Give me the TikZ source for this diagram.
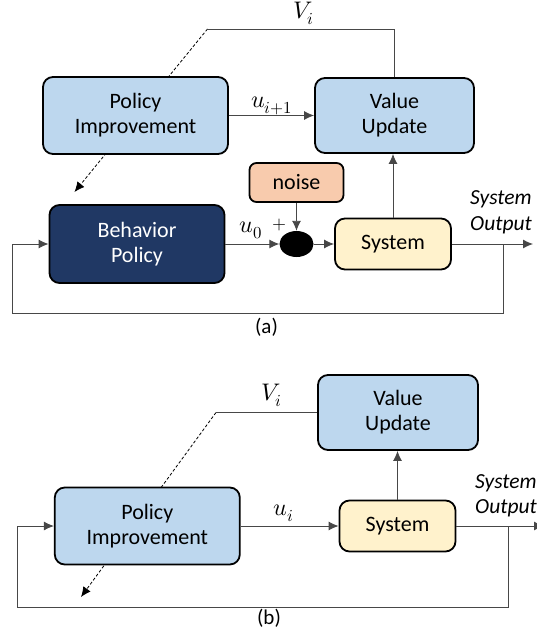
\documentclass[tikz,border=0pt]{standalone}
\usepackage{fontspec}
\usepackage{unicode-math}
\setmainfont{Carlito}
\setmathfont{Latin Modern Math}
\usetikzlibrary{arrows.meta,shapes.geometric}
\definecolor{lightblk}{HTML}{BDD7EE}
\definecolor{navyblk}{HTML}{203864}
\definecolor{noiseblk}{HTML}{F8CBAD}
\definecolor{sysblk}{HTML}{FFF2CC}

\begin{document}
\begin{tikzpicture}[x=1pt,y=-1pt,
    blk/.style={draw=black,line width=1.8pt,rounded corners=10pt,align=center,inner sep=0pt,font=\fontsize{22}{25}\selectfont},
    wire/.style={draw=black!72,line width=0.9pt},
    tip/.style={-{Latex[length=10pt,width=9pt]}},
    guess/.style={black,line width=0.8pt,dash pattern=on 3pt off 2pt,-{Latex[length=10pt,width=9pt]}},
    lbl/.style={font=\fontsize{24}{28}\selectfont,inner sep=0pt},
    outlbl/.style={font=\fontsize{21.5}{25.5}\selectfont\itshape,align=left,anchor=west,inner sep=0pt},
    subcap/.style={font=\fontsize{21}{24}\selectfont,inner sep=0pt}]
\useasboundingbox (0,0) rectangle (536,636);

% (a)
\coordinate (bendA) at (207.5,29);
\coordinate (tipA) at (74.5,192);
\draw[guess] (bendA) -- (tipA);

\node[blk,fill=lightblk,minimum width=185pt,minimum height=77pt] (piA) at (135.5,115.5) {Policy\\Improvement};
\node[blk,fill=lightblk,minimum width=159pt,minimum height=75pt] (vuA) at (394.5,115.5) {Value\\Update};
\node[blk,fill=navyblk,text=white,minimum width=175pt,minimum height=78pt] (bpA) at (137,244) {Behavior\\Policy};
\node[blk,fill=noiseblk,rounded corners=7pt,minimum width=94pt,minimum height=39pt] (noise) at (296.5,182.5) {noise};
\node[ellipse,fill=black,minimum width=34pt,minimum height=26pt,inner sep=0pt] (sumA) at (296.5,244) {};
\node[blk,fill=sysblk,minimum width=116pt,minimum height=51pt] (sysA) at (393,244) {System};

\node[lbl] (viA) at (304,13) {$V_i$};
\node[lbl] (uA) at (272,106) {$u_{i+1}$};
\node[lbl] (u0) at (251,230) {$u_0$};
\node[lbl,font=\fontsize{18}{20}\selectfont] (plusA) at (279,225) {$+$};
\node[outlbl] (outTxtA) at (470,212.5) {System\\Output};

\coordinate (outA) at (533,244);
\coordinate (tapA) at (503,244);
\coordinate (loopA) at (12.5,313);

\draw[wire] (vuA.north) |- (bendA);
\draw[wire,tip] (piA.east) -- (vuA.west);
\draw[wire,tip] (bpA.east) -- (sumA.west);
\draw[wire,tip] (noise.south) -- (sumA.north);
\draw[wire,tip] (sumA.east) -- (sysA.west);
\draw[wire,tip] (sysA.north) -- (sysA.north |- vuA.south);
\draw[wire,tip] (sysA.east) -- (outA);
\draw[wire,tip] (tapA) |- (loopA) |- (bpA.west);

\node[subcap] (capA) at (266.5,327) {(a)};

% (b)
\coordinate (bendB) at (216,412.5);
\coordinate (tipB) at (81,597);
\draw[guess] (bendB) -- (tipB);

\node[blk,fill=lightblk,minimum width=185pt,minimum height=77pt] (piB) at (147.3,526) {Policy\\Improvement};
\node[blk,fill=lightblk,minimum width=160pt,minimum height=75pt] (vuB) at (398,412.5) {Value\\Update};
\node[blk,fill=sysblk,minimum width=116pt,minimum height=51pt] (sysB) at (397.5,526) {System};

\node[lbl] (viB) at (272,395) {$V_i$};
\node[lbl] (uB) at (284,513) {$u_i$};
\node[outlbl] (outTxtB) at (475,496) {System\\Output};

\coordinate (outB) at (544,526);
\coordinate (tapB) at (508,526);
\coordinate (loopB) at (17.5,607);

\draw[wire] (vuB.west) -- (bendB);
\draw[wire,tip] (piB.east) -- (sysB.west);
\draw[wire,tip] (sysB.north) -- (sysB.north |- vuB.south);
\draw[wire,tip] (sysB.east) -- (outB);
\draw[wire,tip] (tapB) |- (loopB) |- (piB.west);

\node[subcap] (capB) at (269,618) {(b)};
\end{tikzpicture}
\end{document}
